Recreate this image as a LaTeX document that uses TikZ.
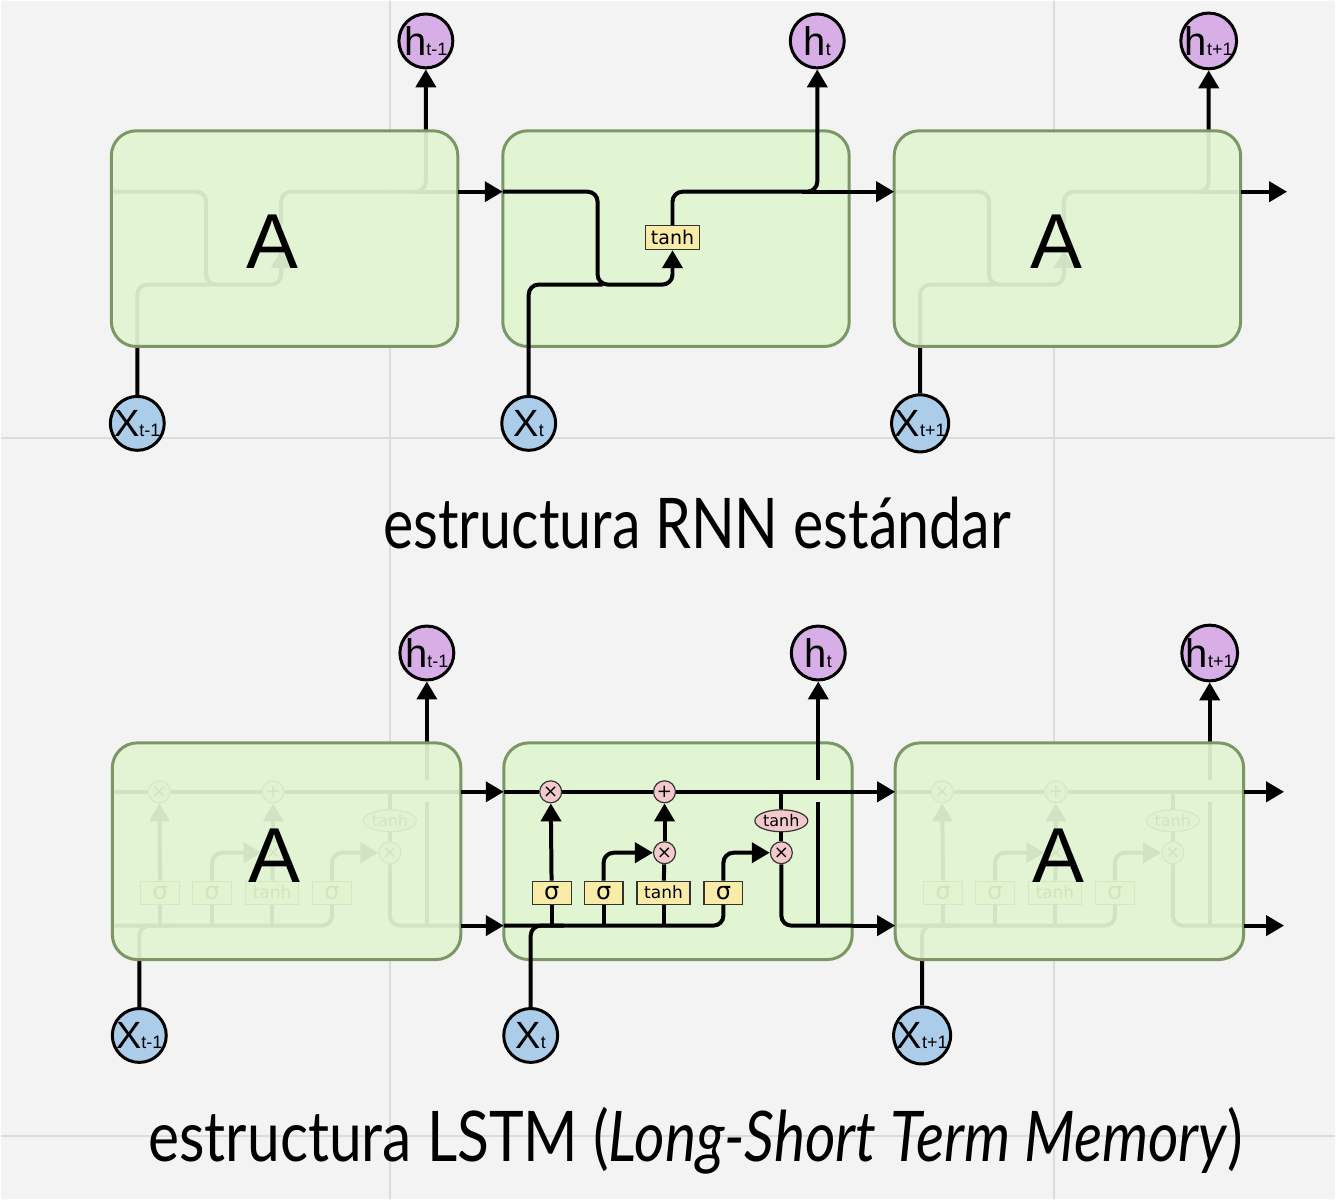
\documentclass[tikz,border=0pt]{standalone}
\usepackage{fontspec}
\usepackage{graphicx}
\setmainfont{Liberation Sans}
\newfontfamily\titlefont{Lato}
\newfontfamily\gatefont{DejaVu Sans}
\usetikzlibrary{arrows.meta,shapes.geometric}
\definecolor{bgc}{HTML}{F3F3F3}
\definecolor{gridc}{HTML}{DCDCDC}
\definecolor{cellfill}{HTML}{E1F5D2}
\definecolor{celldraw}{HTML}{7B9766}
\definecolor{hfill}{HTML}{D7AEE6}
\definecolor{xfill}{HTML}{ABCDEA}
\definecolor{gatefill}{HTML}{F8ECA8}
\definecolor{opfill}{HTML}{F4C9CC}
\tikzstyle{cell-box} = [draw=celldraw, line width=1.5pt, fill=cellfill,
    rounded corners=12.5pt, minimum width=173.5pt, minimum height=108pt, inner sep=0pt]
\tikzstyle{ghost-box} = [cell-box, fill opacity=0.93]
\tikzstyle{h-node} = [circle, draw=black, line width=1.5pt, fill=hfill,
    minimum size=27pt, inner sep=0pt]
\tikzstyle{x-node} = [circle, draw=black, line width=1.5pt, fill=xfill,
    minimum size=27pt, inner sep=0pt]
\tikzstyle{gate-box} = [rectangle, draw=black!80, line width=0.6pt, fill=gatefill,
    minimum height=11.5pt, minimum width=19.5pt, inner sep=0pt,
    font=\gatefont\fontsize{8.5}{8.5}\selectfont]
\tikzstyle{rnn-gate} = [gate-box, minimum width=27pt, minimum height=12pt,
    font=\gatefont\fontsize{9.5}{9.5}\selectfont]
\tikzstyle{rnn-ghost} = [rnn-gate, draw=none, fill=none]
\tikzstyle{op-circ} = [circle, draw=black!80, line width=0.6pt, fill=opfill,
    minimum size=11pt, inner sep=0pt, font=\gatefont\fontsize{9}{9}\selectfont]
\tikzstyle{op-ell} = [ellipse, draw=black!80, line width=0.6pt, fill=opfill,
    minimum width=26.5pt, minimum height=11pt, inner sep=0pt,
    font=\gatefont\fontsize{8}{8}\selectfont]
\tikzstyle{wire} = [line width=2pt, rounded corners=5pt]
\tikzstyle{flow} = [wire, -{Triangle[length=9pt,width=10pt]}]
\tikzstyle{big-a} = [font=\fontsize{39}{39}\selectfont, inner sep=0pt]
\tikzstyle{title} = [font=\titlefont\fontsize{35}{35}\selectfont, anchor=base, inner sep=0pt]
\newcommand{\hlab}[1]{{\fontsize{20}{20}\selectfont h}{\fontsize{9}{9}\selectfont #1}}
\newcommand{\xlab}[1]{{\fontsize{19}{19}\selectfont X}{\fontsize{9}{9}\selectfont #1}}
\newcommand{\sig}{{\fontsize{12}{12}\selectfont σ}}

\begin{document}
\begin{tikzpicture}[x=0.5pt, y=-0.5pt]
\fill[bgc] (0,0) rectangle (1336,1200);
\draw[gridc, line width=1pt] (390,0) -- (390,1200) (1055,0) -- (1055,1200)
    (0,438) -- (1336,438) (0,1137) -- (1336,1137);

% RNN
\node[cell-box] (rB) at (676,238) {};
\foreach \n/\cx/\tsub/\gst/\gtxt in {rA/284/t-1/rnn-ghost/, rB/676/t/rnn-gate/tanh, rC/1068/t+1/rnn-ghost/} {
  \pgfmathsetmacro\lx{\cx-173.5}
  \node[\gst] (\n-tanh) at ({\lx+170},237) {\gtxt};
  \node[x-node] (\n-x) at ({\lx+26},423) {\xlab{\tsub}};
  \node[h-node] (\n-h) at ({\lx+315},40) {\hlab{\tsub}};
  \coordinate (\n-in) at (\lx,191);
  \coordinate (\n-out) at ({\lx+347},191);
  \draw[flow] (\n-in) -- ({\lx+95},191) -- ({\lx+95},284) -- ({\lx+170},284) -- (\n-tanh.south);
  \draw[wire] (\n-x) -- ({\lx+26},284) -- ({\lx+100},284);
  \draw[flow] (\n-tanh.north) -- ({\lx+170},191) -- ({\lx+315},191) -- (\n-h);
  \draw[wire] ({\lx+300},191) -- (\n-out);
}
\node[ghost-box] (rA) at (284,238) {};
\node[ghost-box] (rC) at (1068,238) {};
\node[big-a] (rA-lab) at (272,241) {A};
\node[big-a] (rC-lab) at (1057,241) {A};
\coordinate (rC-end) at (1288,191);
\draw[flow] (rA-out) -- (rB-in);
\draw[flow] (rB-out) -- (rC-in);
\draw[flow] (rC-out) -- (rC-end);
\node[title] (rnn-title) at (697,548) {\scalebox{0.82}[1]{estructura RNN estándar}};

% LSTM
\node[cell-box, minimum width=174.5pt, minimum height=108.5pt] (lB) at (678,851.5) {};
\foreach \n/\cx/\tsub in {lA/286/t-1, lB/678/t, lC/1070/t+1} {
  \pgfmathsetmacro\lx{\cx-174.5}
  \node[op-circ] (\n-f) at ({\lx+47},792) {×};
  \node[op-circ] (\n-add) at ({\lx+161},792) {+};
  \node[op-circ] (\n-i) at ({\lx+161},853) {×};
  \node[op-circ] (\n-o) at ({\lx+278},853) {×};
  \node[op-ell] (\n-th) at ({\lx+278},821) {tanh};
  \node[gate-box] (\n-s1) at ({\lx+48},893) {\sig};
  \node[gate-box] (\n-s2) at ({\lx+100},893) {\sig};
  \node[gate-box, minimum width=26.5pt] (\n-g) at ({\lx+160},893) {tanh};
  \node[gate-box] (\n-s3) at ({\lx+220},893) {\sig};
  \node[x-node] (\n-x) at ({\lx+27},1036) {\xlab{\tsub}};
  \node[h-node] (\n-h) at ({\lx+315},653) {\hlab{\tsub}};
  \coordinate (\n-cin) at (\lx,792);
  \coordinate (\n-cout) at ({\lx+349},792);
  \coordinate (\n-hin) at (\lx,926);
  \coordinate (\n-hout) at ({\lx+349},926);
  \draw[wire] (\n-cin) -- (\n-f) -- (\n-add) -- (\n-cout);
  \draw[wire] (\n-hin) -- ({\lx+220},926) -- (\n-s3.south);
  \draw[wire] (\n-x) -- ({\lx+27},926) -- ({\lx+60},926);
  \draw[wire] (\n-s1.south) -- ({\lx+48},926);
  \draw[wire] (\n-s2.south) -- ({\lx+100},926);
  \draw[wire] (\n-g.south) -- ({\lx+160},926);
  \draw[flow] (\n-s1) -- (\n-f);
  \draw[flow] (\n-s2.north) -- ({\lx+100},853) -- (\n-i);
  \draw[wire] (\n-g) -- (\n-i);
  \draw[flow] (\n-i) -- (\n-add);
  \draw[flow] (\n-s3.north) -- ({\lx+220},853) -- (\n-o);
  \draw[wire] ({\lx+278},792) -- (\n-th);
  \draw[wire] (\n-th) -- (\n-o);
  \draw[wire] (\n-o) -- ({\lx+278},926) -- (\n-hout);
  \draw[wire] ({\lx+315},926) -- ({\lx+315},802);
  \draw[flow] ({\lx+315},780) -- (\n-h);
}
\node[ghost-box, minimum width=174.5pt, minimum height=108.5pt] (lA) at (286,851.5) {};
\node[ghost-box, minimum width=174.5pt, minimum height=108.5pt] (lC) at (1070,851.5) {};
\node[big-a] (lA-lab) at (274,856) {A};
\node[big-a] (lC-lab) at (1059,856) {A};
\coordinate (lC-cend) at (1285,792);
\coordinate (lC-hend) at (1285,926);
\draw[flow] (lA-cout) -- (lB-cin);
\draw[flow] (lA-hout) -- (lB-hin);
\draw[flow] (lB-cout) -- (lC-cin);
\draw[flow] (lB-hout) -- (lC-hin);
\draw[flow] (lC-cout) -- (lC-cend);
\draw[flow] (lC-hout) -- (lC-hend);
\node[title] (lstm-title) at (696,1162)
    {\scalebox{0.84}[1]{estructura LSTM (\textit{Long-Short Term Memory})}};
\end{tikzpicture}
\end{document}
